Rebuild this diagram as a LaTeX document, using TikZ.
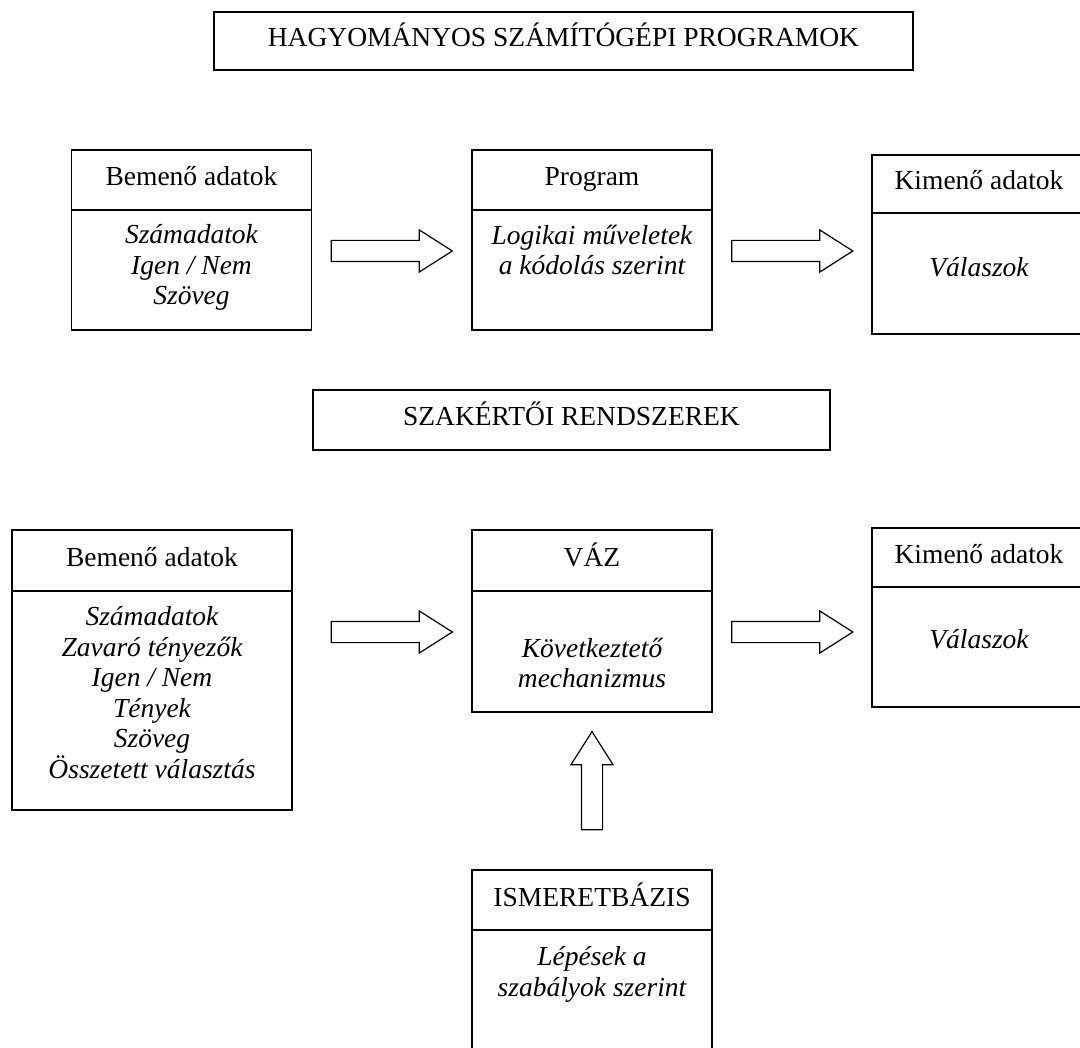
\documentclass[tikz,border=0pt]{standalone}
\usepackage{fontspec}
\setmainfont{Liberation Serif}
\usetikzlibrary{shapes.arrows, positioning}
\tikzstyle{frame} = [rectangle, draw=black, line width=1.2pt, minimum width=240pt, minimum height=180pt]
\tikzstyle{head} = [rectangle, draw=black, line width=1.2pt, minimum width=240pt, minimum height=60pt, anchor=north, text height=20pt, text depth=8pt]
\tikzstyle{content} = [align=center, inner sep=0pt, font=\itshape\fontsize{27.5}{30.5}\selectfont]
\tikzstyle{title} = [rectangle, draw=black, line width=1.2pt, minimum height=58pt, text height=20pt, text depth=8pt]
\tikzstyle{bigarrow} = [single arrow, draw=black, line width=1.2pt, minimum height=121pt, inner sep=10pt, single arrow head extend=10.5pt, single arrow tip angle=65]

\begin{document}
\begin{tikzpicture}[x=1pt, y=-1pt, font=\fontsize{27.5}{30.5}\selectfont]
    \clip (0,0) rectangle (1080,1048);
    % hagyomanyos programok
    \node (hagyomanyos) [title, minimum width=699pt] at (563.5,41) {HAGYOMÁNYOS SZÁMÍTÓGÉPI PROGRAMOK};
    \node (input1) [frame] at (191.5,240) {};
    \node (input1head) [head] at (input1.north) {Bemenő adatok};
    \node (input1body) [content, below=14pt of input1head] {Számadatok\\Igen / Nem\\Szöveg};
    \node (program) [frame] at (592,240) {};
    \node (programhead) [head] at (program.north) {Program};
    \node (programbody) [content, below=14pt of programhead] {Logikai műveletek\\a kódolás szerint};
    \node (output1) [frame, minimum width=214pt, minimum height=179pt] at (979,244.5) {};
    \node (output1head) [head, minimum width=214pt, minimum height=58pt] at (output1.north) {Kimenő adatok};
    \node (output1body) [content, below=44pt of output1head] {Válaszok};
    \node (arrow1) [bigarrow] at (383.5,251) {};
    \node (arrow2) [bigarrow] at (784,251) {};
    % szakertoi rendszerek
    \node (szakerto) [title, minimum width=517pt, minimum height=60pt] at (571.5,420) {SZAKÉRTŐI RENDSZEREK};
    \node (input2) [frame, minimum width=280pt, minimum height=280pt] at (152,670) {};
    \node (input2head) [head, minimum width=280pt, minimum height=61pt] at (input2.north) {Bemenő adatok};
    \node (input2body) [content, below=15pt of input2head] {Számadatok\\Zavaró tényezők\\Igen / Nem\\Tények\\Szöveg\\Összetett választás};
    \node (vaz) [frame, minimum height=182pt] at (592,621) {};
    \node (vazhead) [head, minimum height=61pt] at (vaz.north) {VÁZ};
    \node (vazbody) [content, below=46pt of vazhead] {Következtető\\mechanizmus};
    \node (output2) [frame, minimum width=214pt, minimum height=179pt] at (979,617.5) {};
    \node (output2head) [head, minimum width=214pt, minimum height=59pt] at (output2.north) {Kimenő adatok};
    \node (output2body) [content, below=42pt of output2head] {Válaszok};
    \node (base) [frame, minimum height=200pt] at (592,970) {};
    \node (basehead) [head] at (base.north) {ISMERETBÁZIS};
    \node (basebody) [content, below=16pt of basehead] {Lépések a\\szabályok szerint};
    \node (arrow3) [bigarrow] at (383.5,632) {};
    \node (arrow4) [bigarrow] at (784,632) {};
    \node (arrow5) [bigarrow, minimum height=98pt, rotate=90] at (592,789) {};
\end{tikzpicture}
\end{document}
